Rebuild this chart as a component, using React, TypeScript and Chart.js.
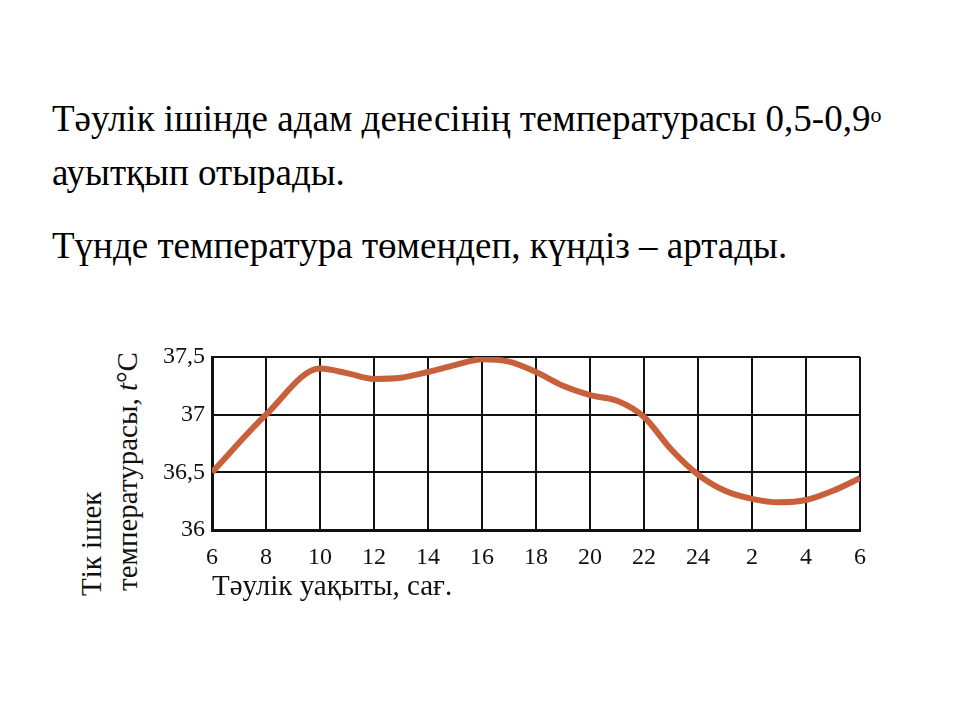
import React, { useEffect, useRef } from "react";
import { Chart, registerables } from "chart.js";

Chart.register(...registerables);

// Hours elapsed since 6:00 at which the curve was read
const readingHours = [0, 2, 4, 5, 6, 7, 8, 9, 10, 11, 12, 13, 14, 15, 16, 17, 18, 19, 20, 21, 22, 23, 24];
// Rectal temperature, °C
const temperatures = [36.5, 37.0, 37.4, 37.36, 37.31, 37.32, 37.37, 37.43, 37.48, 37.46, 37.37, 37.25, 37.17, 37.12, 36.98, 36.7, 36.48, 36.34, 36.27, 36.24, 36.26, 36.34, 36.45];

const xTickLabels = ["6", "8", "10", "12", "14", "16", "18", "20", "22", "24", "2", "4", "6"];
const yTickValues = [36, 36.5, 37, 37.5];
const yTickLabels = ["36", "36,5", "37", "37,5"];

const headingLine1 = "Тəулік ішінде адам денесінің температурасы 0,5-0,9";
const headingLine2 = "ауытқып отырады.";
const headingLine3 = "Түнде температура төмендеп, күндіз – артады.";
const xTitle = "Тəулік уақыты, сағ.";
const yTitle1 = "Тік ішек";
const yTitle2 = "температурасы, ";

const SERIF = '"Liberation Serif", "DejaVu Serif", serif';

export default function App() {
  const canvasRef = useRef<HTMLCanvasElement | null>(null);

  useEffect(() => {
    if (!canvasRef.current) return;
    const points = readingHours.map((h, i) => ({ x: h, y: temperatures[i] }));
    const chart = new Chart(canvasRef.current, {
      type: "line",
      data: {
        datasets: [
          {
            data: points,
            borderColor: "#c8603c",
            borderWidth: 6,
            tension: 0.4,
            cubicInterpolationMode: "monotone",
            pointRadius: 0,
            fill: false,
          },
        ],
      },
      options: {
        animation: false,
        responsive: false,
        maintainAspectRatio: false,
        layout: { padding: { top: 12, right: 10, left: 0, bottom: 0 } },
        plugins: { legend: { display: false }, tooltip: { enabled: false } },
        scales: {
          x: {
            type: "linear",
            min: 0,
            max: 24,
            afterFit: (s: any) => {
              s.height = 75;
              s.paddingLeft = 0;
              s.paddingRight = 0;
            },
            afterBuildTicks: (s: any) => {
              s.ticks = xTickLabels.map((_, i) => ({ value: i * 2 }));
            },
            ticks: {
              autoSkip: false,
              maxRotation: 0,
              padding: 13,
              color: "#111",
              font: { family: SERIF, size: 24 },
              callback: (_v: any, i: number) => xTickLabels[i],
            },
            grid: { color: "#111", lineWidth: 2, drawTicks: false },
            border: { color: "#111", width: 3 },
            title: {
              display: true,
              text: xTitle,
              align: "start",
              color: "#111",
              font: { family: SERIF, size: 29 },
              padding: { top: 0, bottom: 0 },
            },
          },
          y: {
            type: "linear",
            min: 36,
            max: 37.5,
            afterFit: (s: any) => {
              s.width = 62;
              s.paddingTop = 0;
              s.paddingBottom = 0;
            },
            afterBuildTicks: (s: any) => {
              s.ticks = yTickValues.map((v) => ({ value: v }));
            },
            ticks: {
              padding: 7,
              color: "#111",
              font: { family: SERIF, size: 24 },
              callback: (_v: any, i: number) => yTickLabels[i],
            },
            grid: { color: "#111", lineWidth: 2, drawTicks: false },
            border: { color: "#111", width: 3 },
          },
        },
      },
    });
    return () => chart.destroy();
  }, []);

  const head: React.CSSProperties = {
    position: "absolute",
    left: 52,
    fontFamily: SERIF,
    fontSize: 37,
    lineHeight: 1,
    whiteSpace: "nowrap",
    color: "#000",
  };
  const yT: React.CSSProperties = {
    position: "absolute",
    fontFamily: SERIF,
    fontSize: 29,
    lineHeight: "29px",
    whiteSpace: "nowrap",
    transformOrigin: "0 0",
    transform: "rotate(-90deg)",
    color: "#111",
  };

  return (
    <div style={{ position: "fixed", left: 0, top: 0, width: 960, height: 720, background: "#fff", overflow: "hidden" }}>
      <div style={{ ...head, top: 100 }}>
        {headingLine1}
        <sup style={{ fontSize: 22, verticalAlign: "0.4em" }}>о</sup>
      </div>
      <div style={{ ...head, top: 154 }}>{headingLine2}</div>
      <div style={{ ...head, top: 227 }}>{headingLine3}</div>
      <div style={{ ...yT, left: 77, top: 596 }}>{yTitle1}</div>
      <div style={{ ...yT, left: 113, top: 591 }}>
        {yTitle2}
        <i>t</i>°C
      </div>
      <canvas
        ref={canvasRef}
        width={720}
        height={260}
        style={{ position: "absolute", left: 150, top: 345, width: 720, height: 260 }}
      />
    </div>
  );
}
